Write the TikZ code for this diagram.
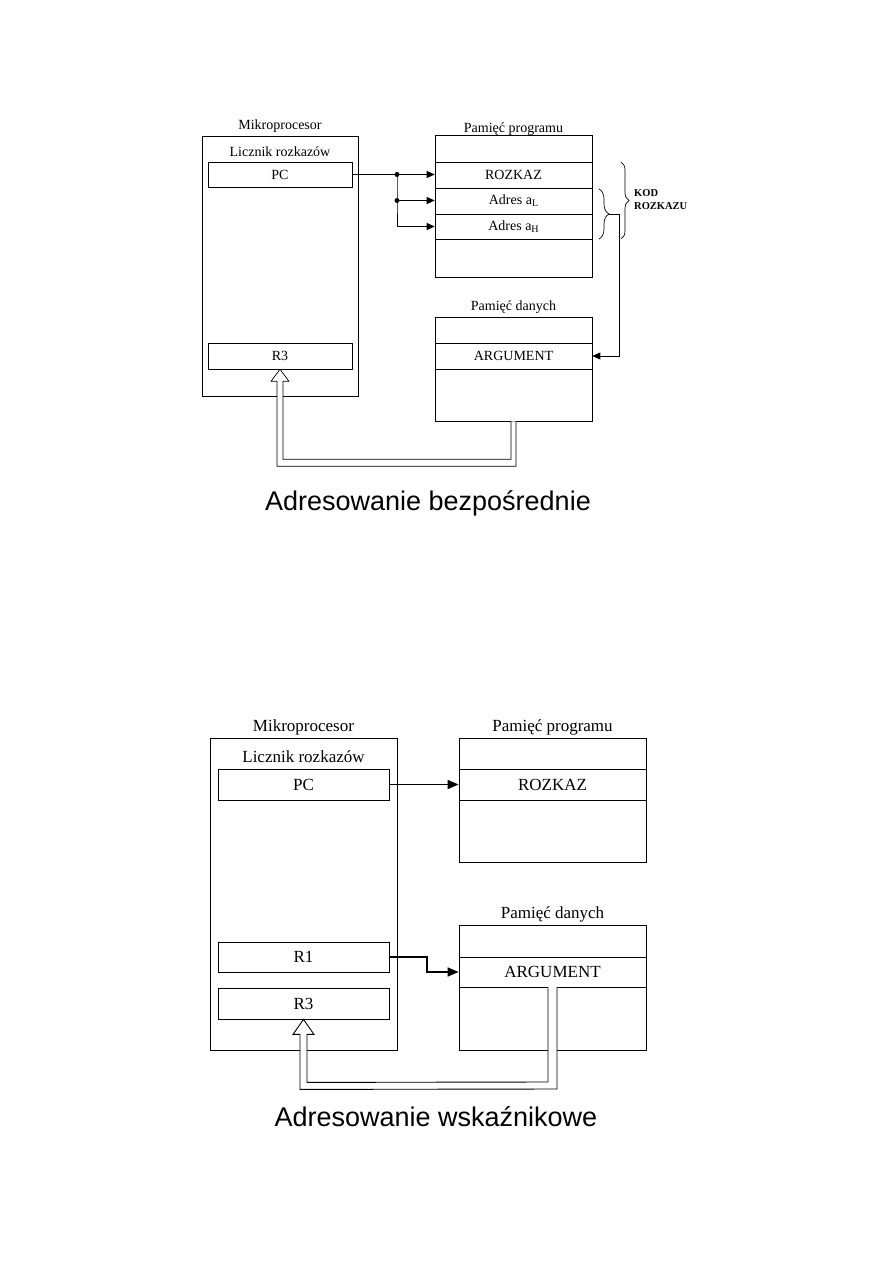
\documentclass[tikz,border=0pt]{standalone}
\usepackage{fontspec}
\setmainfont{Liberation Serif}
\newfontfamily\titlefont{Liberation Sans}
\usetikzlibrary{arrows.meta,decorations.pathreplacing,calc}
\begin{document}
\begin{tikzpicture}[x=1pt,y=-1pt,
  boxA/.style={draw, line width=0.6pt, inner sep=0pt, font=\fontsize{14}{16}\selectfont},
  boxB/.style={draw, line width=0.8pt, inner sep=0pt, font=\fontsize{17}{19}\selectfont},
  lblA/.style={inner sep=0pt, font=\fontsize{14}{16}\selectfont},
  lblB/.style={inner sep=0pt, font=\fontsize{17}{19}\selectfont},
  conA/.style={line width=0.8pt, -{Triangle[length=8pt,width=7pt]}},
  conB/.style={line width=1.6pt, -{Triangle[length=11pt,width=9pt]}},
  hollowA/.style={line width=0.7pt, fill=white},
  hollowB/.style={line width=0.9pt, fill=white},
  dotA/.style={circle, fill=black, inner sep=0pt, minimum size=5pt},
  titleA/.style={inner sep=0pt, font=\titlefont\fontsize{27}{30}\selectfont}
]
\useasboundingbox (0,0) rectangle (893,1263);

% ================= TOP: Adresowanie bezposrednie =================
\node[boxA, minimum width=156pt, minimum height=260pt] (mp1) at (280,266) {};
\node[lblA] (mp1t) at (280,126) {Mikroprocesor};
\node[lblA] (lr1) at (280,152) {Licznik rozkazów};
\node[boxA, minimum width=144pt, minimum height=25pt] (pc1) at (280,174.5) {PC};
\node[boxA, minimum width=144pt, minimum height=26pt] (r3a) at (280,356) {R3};

% program memory
\node[lblA] (pp1t) at (513.5,129) {Pamięć programu};
\node[boxA, minimum width=157pt, minimum height=27pt] (pp1a) at (513.5,148.5) {};
\node[boxA, minimum width=157pt, minimum height=26pt] (rozkaz1) at (513.5,175) {ROZKAZ};
\node[boxA, minimum width=157pt, minimum height=26pt] (adl) at (513.5,201) {Adres a\raisebox{-0.35ex}{\fontsize{10}{12}\selectfont L}};
\node[boxA, minimum width=157pt, minimum height=25pt] (adh) at (513.5,226.5) {Adres a\raisebox{-0.35ex}{\fontsize{10}{12}\selectfont H}};
\node[boxA, minimum width=157pt, minimum height=38pt] (pp1e) at (513.5,258) {};

% data memory
\node[lblA] (pd1t) at (513.5,307) {Pamięć danych};
\node[boxA, minimum width=157pt, minimum height=26pt] (pd1a) at (513.5,330) {};
\node[boxA, minimum width=157pt, minimum height=26pt] (arg1) at (513.5,356) {ARGUMENT};
\node[boxA, minimum width=157pt, minimum height=52pt] (pd1e) at (513.5,395) {};

% PC fan-out
\node[dotA] (j1) at (397,174.5) {};
\node[dotA] (j2) at (397,200.5) {};
\coordinate (j3) at (397,226.5);
\draw[line width=0.8pt] (pc1.east) -- (j1.center);
\draw[conA] (j1.center) -- (rozkaz1.west |- j1);
\draw[line width=0.8pt] (j1.center) -- (j2.center) -- (j3);
\draw[conA] (j2.center) -- (adl.west |- j2);
\draw[conA] (j3) -- (adh.west |- j3);

% braces
\draw[line width=0.7pt, decorate, decoration={brace, amplitude=10pt, aspect=0.5}] (599,189) -- (599,239);
\coordinate (btip) at (609,214);
\draw[line width=0.7pt, decorate, decoration={brace, amplitude=8pt, aspect=0.5}] (621,162) -- (621,239);
\node[inner sep=0pt, anchor=west, align=left, font=\bfseries\fontsize{10.5}{13}\selectfont] (kod) at (634,200) {KOD\\ROZKAZU};

\coordinate (bcorner) at (619,214);
\draw[conA] (btip) -- (bcorner) -- (bcorner |- arg1) -- (arg1.east);

% hollow arrow arg -> R3
\draw[hollowA] ($(pd1e.south)+(-2.5,0)$) -- ++(0,38) -- ($(r3a.south)+(3,90)$) -- ($(r3a.south)+(3,12)$)
  -- ($(r3a.south)+(9,12)$) -- (r3a.south) -- ($(r3a.south)+(-9,12)$) -- ($(r3a.south)+(-3,12)$)
  -- ($(r3a.south)+(-3,97)$) -- ($(pd1e.south)+(2.5,45)$) -- ($(pd1e.south)+(2.5,0)$);

\node[titleA] (title1) at (428,503) {Adresowanie bezpośrednie};

% ================= BOTTOM: Adresowanie wskaznikowe =================
\node[boxB, minimum width=187pt, minimum height=312pt] (mp2) at (303.5,894) {};
\node[lblB] (mp2t) at (303.5,727) {Mikroprocesor};
\node[lblB] (lr2) at (303.5,757) {Licznik rozkazów};
\node[boxB, minimum width=171pt, minimum height=31pt] (pc2) at (303.5,784.5) {PC};
\node[boxB, minimum width=171pt, minimum height=30pt] (r1) at (303.5,957) {R1};
\node[boxB, minimum width=171pt, minimum height=31pt] (r3b) at (303.5,1003.5) {R3};

% program memory
\node[lblB] (pp2t) at (552.5,727) {Pamięć programu};
\node[boxB, minimum width=187pt, minimum height=31pt] (pp2a) at (552.5,753.5) {};
\node[boxB, minimum width=187pt, minimum height=31pt] (rozkaz2) at (552.5,784.5) {ROZKAZ};
\node[boxB, minimum width=187pt, minimum height=62pt] (pp2e) at (552.5,831) {};

% data memory
\node[lblB] (pd2t) at (552.5,914) {Pamięć danych};
\node[boxB, minimum width=187pt, minimum height=32pt] (pd2a) at (552.5,941) {};
\node[boxB, minimum width=187pt, minimum height=30pt] (arg2) at (552.5,972) {ARGUMENT};
\node[boxB, minimum width=187pt, minimum height=63pt] (pd2e) at (552.5,1018.5) {};

\draw[conB] (pc2.east) -- (rozkaz2.west);
\coordinate (k1) at (427,957);
\draw[conB] (r1.east) -- (k1) -- (k1 |- arg2) -- (arg2.west);

% hollow arrow arg -> R3
\draw[hollowB] (548,987) -- (548,1082) -- ($(r3b.south)+(3.5,63)$) -- ($(r3b.south)+(3.5,15)$)
  -- ($(r3b.south)+(10.5,15)$) -- (r3b.south) -- ($(r3b.south)+(-10.5,15)$) -- ($(r3b.south)+(-3.5,15)$)
  -- ($(r3b.south)+(-3.5,70)$) -- (557,1089) -- (557,987);

\node[titleA] (title2) at (436,1117) {Adresowanie wskaźnikowe};
\end{tikzpicture}
\end{document}
